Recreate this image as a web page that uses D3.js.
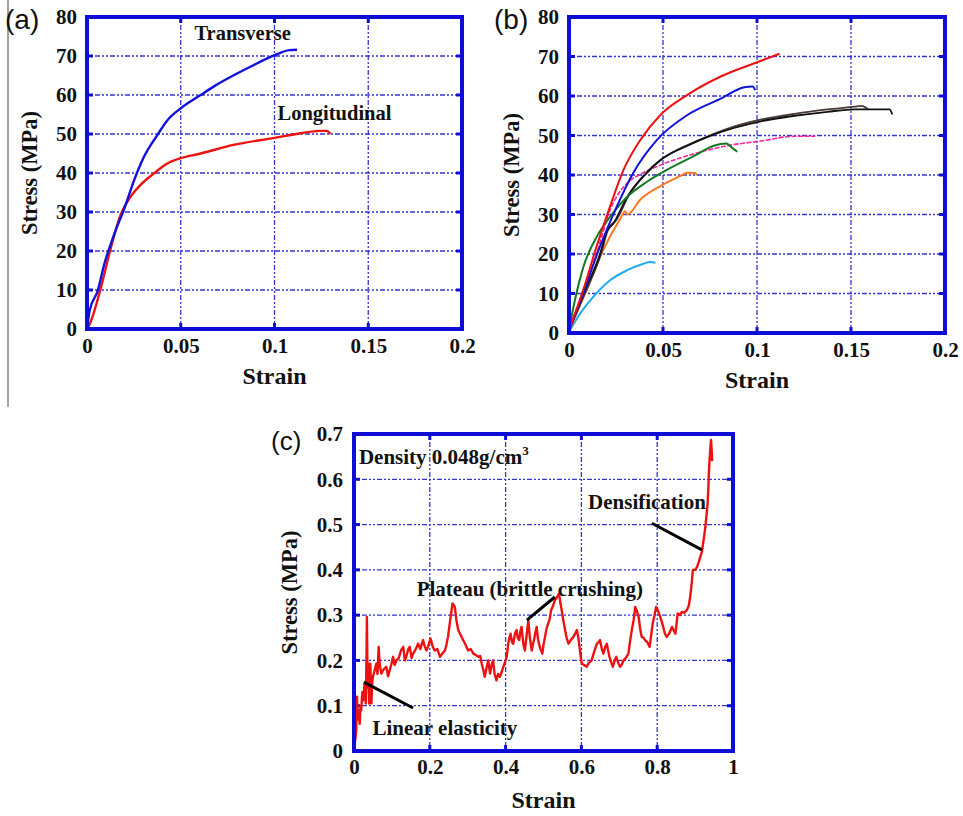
<!DOCTYPE html>
<html>
<head>
<meta charset="utf-8">
<script src="https://cdn.jsdelivr.net/npm/d3@7"></script>
<style>
  body { margin: 0; background: #fff; }
  svg text { font-family: "Liberation Serif", "Times New Roman", serif; font-weight: bold; fill: #111; }
  svg text.letter { font-family: "Liberation Sans", Arial, sans-serif; font-weight: normal; }
</style>
</head>
<body>
<svg width="963" height="816"></svg>
<script>
// ---- data: [strain, stress] ----
const transverse = [[0,0],[0.0014,4.7],[0.0057,9.8],[0.0092,16.6],[0.0145,24.3],[0.020,31],[0.025,38],[0.030,43.8],[0.0376,49.8],[0.043,53.6],[0.05,56.6],[0.0606,60],[0.069,62.6],[0.078,65],[0.089,67.7],[0.1,70.2],[0.108,71.5],[0.112,71.6]]
const longitudinal = [[0,0],[0.0012,1],[0.0074,10.6],[0.0128,21],[0.018,29.4],[0.0234,34],[0.0287,37],[0.036,40],[0.043,42.5],[0.05,43.8],[0.0606,45],[0.078,47.2],[0.1,49],[0.114,50.2],[0.124,50.8],[0.128,50.8],[0.1298,50]]

const bRed = [[0,0.7],[0.0075,10.8],[0.0146,21.8],[0.0218,32],[0.029,41.3],[0.038,48.9],[0.0486,55.2],[0.063,60.3],[0.081,65],[0.0986,68.3],[0.112,70.7]]
const bBlue = [[0,0.5],[0.0075,10],[0.0164,21.8],[0.0254,32],[0.034,40.4],[0.0468,48.9],[0.063,55.2],[0.081,59.4],[0.0932,62.2],[0.0977,62.4],[0.099,61.5]]
const bBlackA = [[0,0.8],[0.0077,10],[0.0165,20],[0.02,25.5],[0.024,28],[0.031,34.5],[0.04,40],[0.0486,43.8],[0.063,47.4],[0.0752,49.9],[0.0877,51.9],[0.102,53.6],[0.12,55],[0.1375,56],[0.152,56.6],[0.1705,56.6],[0.172,55.3]]
const bBlackB = [[0,0.8],[0.0085,10],[0.017,20],[0.021,26.5],[0.025,28.5],[0.032,35],[0.041,40.3],[0.05,44.2],[0.064,47.8],[0.076,50.2],[0.088,52.3],[0.102,54],[0.12,55.5],[0.1375,56.6],[0.152,57.3],[0.1555,57.5],[0.159,56.7]]
const bPink = [[0,0.8],[0.0077,11],[0.0148,20.3],[0.022,31.3],[0.031,38],[0.038,40.2],[0.0486,42.5],[0.066,45.3],[0.084,47.4],[0.102,48.6],[0.12,49.8],[0.131,49.8]]
const bGreen = [[0,0.8],[0.0032,8.4],[0.0077,16.8],[0.0148,24.4],[0.022,29.5],[0.031,34.5],[0.0415,38.3],[0.052,41.3],[0.066,44.7],[0.077,47.4],[0.0836,48],[0.087,46.8],[0.0895,45.9]]
const bOrange = [[0,0.5],[0.0094,11],[0.0183,21.1],[0.027,28.7],[0.0299,30.8],[0.031,30],[0.038,33.8],[0.0486,37.2],[0.059,39.7],[0.063,40.6],[0.067,40.5],[0.068,39.9]]
const bCyan = [[0,0.3],[0.0059,4.9],[0.013,9.2],[0.022,13.4],[0.031,15.9],[0.04,17.6],[0.043,18],[0.046,17.8]]

const foam = [[0,0.002],[0.004,0.03],[0.006,0.046],[0.008,0.12],[0.010,0.07],[0.012,0.09],[0.015,0.06],[0.017,0.1],[0.019,0.09],[0.022,0.13],[0.024,0.112],[0.028,0.149],[0.031,0.105],[0.033,0.208],[0.034,0.296],[0.036,0.14],[0.037,0.193],[0.04,0.105],[0.043,0.193],[0.046,0.105],[0.048,0.15],[0.05,0.164],[0.055,0.18],[0.059,0.193],[0.062,0.17],[0.065,0.23],[0.068,0.19],[0.072,0.171],[0.078,0.18],[0.085,0.186],[0.09,0.165],[0.094,0.178],[0.098,0.19],[0.103,0.208],[0.107,0.19],[0.112,0.2],[0.118,0.205],[0.124,0.222],[0.13,0.23],[0.134,0.2],[0.138,0.208],[0.143,0.225],[0.147,0.23],[0.152,0.205],[0.156,0.215],[0.163,0.225],[0.169,0.237],[0.175,0.225],[0.182,0.245],[0.187,0.23],[0.191,0.222],[0.197,0.235],[0.202,0.248],[0.208,0.23],[0.213,0.222],[0.22,0.225],[0.227,0.208],[0.233,0.215],[0.24,0.222],[0.244,0.235],[0.248,0.252],[0.254,0.29],[0.26,0.326],[0.266,0.318],[0.27,0.29],[0.275,0.267],[0.282,0.255],[0.288,0.245],[0.294,0.235],[0.301,0.222],[0.308,0.225],[0.315,0.215],[0.321,0.212],[0.328,0.208],[0.333,0.21],[0.337,0.193],[0.341,0.18],[0.345,0.164],[0.35,0.185],[0.354,0.2],[0.359,0.171],[0.363,0.19],[0.367,0.2],[0.371,0.17],[0.376,0.156],[0.38,0.17],[0.385,0.164],[0.39,0.175],[0.394,0.186],[0.398,0.195],[0.403,0.208],[0.407,0.237],[0.41,0.25],[0.413,0.259],[0.417,0.24],[0.42,0.237],[0.425,0.26],[0.429,0.267],[0.432,0.25],[0.436,0.245],[0.439,0.265],[0.442,0.274],[0.447,0.235],[0.451,0.222],[0.456,0.26],[0.46,0.289],[0.464,0.25],[0.469,0.222],[0.472,0.235],[0.475,0.245],[0.478,0.26],[0.482,0.274],[0.485,0.25],[0.488,0.237],[0.492,0.225],[0.497,0.215],[0.5,0.235],[0.504,0.252],[0.508,0.27],[0.512,0.281],[0.516,0.29],[0.52,0.311],[0.525,0.32],[0.53,0.333],[0.536,0.34],[0.541,0.348],[0.544,0.33],[0.548,0.311],[0.552,0.29],[0.557,0.267],[0.561,0.25],[0.566,0.237],[0.572,0.245],[0.579,0.252],[0.584,0.26],[0.588,0.267],[0.592,0.25],[0.595,0.23],[0.598,0.21],[0.601,0.193],[0.607,0.19],[0.614,0.186],[0.62,0.195],[0.627,0.2],[0.634,0.22],[0.641,0.237],[0.645,0.24],[0.649,0.245],[0.654,0.225],[0.658,0.215],[0.663,0.23],[0.667,0.237],[0.671,0.22],[0.674,0.208],[0.679,0.195],[0.683,0.186],[0.688,0.2],[0.692,0.208],[0.697,0.195],[0.702,0.186],[0.706,0.19],[0.711,0.2],[0.717,0.205],[0.724,0.215],[0.728,0.24],[0.733,0.267],[0.738,0.29],[0.742,0.318],[0.746,0.31],[0.751,0.296],[0.755,0.27],[0.759,0.252],[0.764,0.25],[0.768,0.245],[0.774,0.24],[0.78,0.23],[0.784,0.255],[0.788,0.281],[0.793,0.3],[0.797,0.318],[0.802,0.31],[0.808,0.296],[0.812,0.285],[0.816,0.274],[0.82,0.26],[0.825,0.252],[0.832,0.26],[0.839,0.274],[0.844,0.265],[0.848,0.259],[0.851,0.28],[0.854,0.304],[0.86,0.3],[0.865,0.307],[0.871,0.305],[0.878,0.311],[0.883,0.32],[0.887,0.34],[0.891,0.37],[0.894,0.4],[0.9,0.4],[0.905,0.406],[0.91,0.418],[0.914,0.429],[0.918,0.44],[0.921,0.458],[0.924,0.475],[0.927,0.495],[0.93,0.52],[0.933,0.547],[0.935,0.58],[0.936,0.606],[0.938,0.64],[0.94,0.665],[0.942,0.687],[0.944,0.66],[0.945,0.64]]

const strainTicksAB = [0, 0.05, 0.1, 0.15, 0.2]
const stressTicksAB = [0, 10, 20, 30, 40, 50, 60, 70, 80]
const strainTicksC = [0, 0.2, 0.4, 0.6, 0.8, 1]
const stressTicksC = [0, 0.1, 0.2, 0.3, 0.4, 0.5, 0.6, 0.7]

const frameBlue = "#0d0dd6"
const gridBlue = "#3535d0"

const svg = d3.select("svg")

// thin separator line on the far left
svg.append("line").attr("x1", 8).attr("x2", 8).attr("y1", 0).attr("y2", 407)
  .attr("stroke", "#444").attr("stroke-width", 1)

function panel(cfg) {
  const x = d3.scaleLinear().domain(cfg.xDomain).range([cfg.left, cfg.right])
  const y = d3.scaleLinear().domain(cfg.yDomain).range([cfg.bottom, cfg.top])
  const g = svg.append("g")

  // grid
  g.append("g").selectAll("line.gx")
    .data(cfg.xTicks.slice(1, -1)).enter().append("line")
    .attr("x1", d => x(d)).attr("x2", d => x(d))
    .attr("y1", cfg.top).attr("y2", cfg.bottom)
    .attr("stroke", gridBlue).attr("stroke-width", 1.3)
    .attr("stroke-dasharray", "2,2,2,2,5,2")
  g.append("g").selectAll("line.gy")
    .data(cfg.yTicks.slice(1, -1)).enter().append("line")
    .attr("y1", d => y(d)).attr("y2", d => y(d))
    .attr("x1", cfg.left).attr("x2", cfg.right)
    .attr("stroke", gridBlue).attr("stroke-width", 1.3)
    .attr("stroke-dasharray", "2,2,2,2,5,2")

  // inward tick marks on all four sides
  const tk = 6
  cfg.xTicks.slice(1, -1).forEach(d => {
    g.append("line").attr("x1", x(d)).attr("x2", x(d)).attr("y1", cfg.bottom).attr("y2", cfg.bottom - tk)
      .attr("stroke", frameBlue).attr("stroke-width", 3)
    g.append("line").attr("x1", x(d)).attr("x2", x(d)).attr("y1", cfg.top).attr("y2", cfg.top + tk)
      .attr("stroke", frameBlue).attr("stroke-width", 3)
  })
  cfg.yTicks.slice(1, -1).forEach(d => {
    g.append("line").attr("y1", y(d)).attr("y2", y(d)).attr("x1", cfg.left).attr("x2", cfg.left + tk)
      .attr("stroke", frameBlue).attr("stroke-width", 3)
    g.append("line").attr("y1", y(d)).attr("y2", y(d)).attr("x1", cfg.right).attr("x2", cfg.right - tk)
      .attr("stroke", frameBlue).attr("stroke-width", 3)
  })

  // axes (labels only)
  const ax = g.append("g").attr("transform", `translate(0,${cfg.bottom})`)
    .call(d3.axisBottom(x).tickValues(cfg.xTicks).tickSize(0).tickPadding(cfg.xPad).tickFormat(d3.format("")))
  const ay = g.append("g").attr("transform", `translate(${cfg.left},0)`)
    .call(d3.axisLeft(y).tickValues(cfg.yTicks).tickSize(0).tickPadding(cfg.yPad).tickFormat(d3.format("")))
  ;[ax, ay].forEach(a => {
    a.select(".domain").remove()
    a.selectAll("text").attr("font-size", 21).attr("fill", "#111")
      .attr("font-family", '"Liberation Serif", serif').attr("font-weight", "bold")
  })

  g.append("text").attr("x", (cfg.left + cfg.right) / 2).attr("y", cfg.bottom + cfg.xTitleOff)
    .attr("text-anchor", "middle").attr("font-size", 24).text("Strain")
  g.append("text")
    .attr("transform", `translate(${cfg.left - cfg.yTitleOff},${(cfg.top + cfg.bottom) / 2}) rotate(-90)`)
    .attr("text-anchor", "middle").attr("font-size", 22.5).text("Stress (MPa)")

  g.append("text").attr("class", "letter").attr("x", cfg.letter[0]).attr("y", cfg.letter[1])
    .attr("font-size", cfg.letterSize).text(cfg.name)

  const line = d3.line().x(d => x(d[0])).y(d => y(d[1])).curve(cfg.curve || d3.curveLinear)
  cfg.series.forEach(s => {
    g.append("path").datum(s.data).attr("d", line).attr("fill", "none")
      .attr("stroke", s.color).attr("stroke-width", s.width || 2)
      .attr("stroke-dasharray", s.dash || null)
      .attr("stroke-linejoin", "round")
  })

  ;(cfg.notes || []).forEach(n => {
    if (n.line) {
      g.append("line").attr("x1", x(n.line[0][0])).attr("y1", y(n.line[0][1]))
        .attr("x2", x(n.line[1][0])).attr("y2", y(n.line[1][1]))
        .attr("stroke", "#000").attr("stroke-width", 3)
    }
    const t = g.append("text").attr("x", x(n.at[0])).attr("y", y(n.at[1]))
      .attr("text-anchor", n.anchor || "middle").attr("font-size", n.size || 21).text(n.text)
    if (n.sup) t.append("tspan").attr("font-size", 13).attr("dy", -9).text(n.sup)
  })

  // frame on top
  g.append("rect").attr("x", cfg.left).attr("y", cfg.top)
    .attr("width", cfg.right - cfg.left).attr("height", cfg.bottom - cfg.top)
    .attr("fill", "none").attr("stroke", frameBlue).attr("stroke-width", 4)
}

panel({
  name: "(a)", letter: [5, 29], letterSize: 28,
  left: 87, right: 462, top: 17, bottom: 329,
  xDomain: [0, 0.2], yDomain: [0, 80], xTicks: strainTicksAB, yTicks: stressTicksAB,
  xPad: 9, yPad: 10, xTitleOff: 55, yTitleOff: 50, curve: d3.curveMonotoneX,
  series: [
    {data: longitudinal, color: "#ee1111", width: 2.4},
    {data: transverse, color: "#1111dd", width: 2.4}
  ],
  notes: [
    {text: "Transverse", at: [0.083, 74], size: 20.5},
    {text: "Longitudinal", at: [0.132, 53.5], size: 20.5}
  ]
})

panel({
  name: "(b)", letter: [494, 29], letterSize: 28,
  left: 569, right: 945, top: 17, bottom: 333,
  xDomain: [0, 0.2], yDomain: [0, 80], xTicks: strainTicksAB, yTicks: stressTicksAB,
  xPad: 9, yPad: 10, xTitleOff: 55, yTitleOff: 50, curve: d3.curveMonotoneX,
  series: [
    {data: bCyan, color: "#22aaee"},
    {data: bOrange, color: "#ff7722"},
    {data: bPink, color: "#ff2299", width: 1.6, dash: "5,1.5"},
    {data: bBlackB, color: "#4a3a36", width: 1.8},
    {data: bBlackA, color: "#111111", width: 1.8},
    {data: bGreen, color: "#127a22"},
    {data: bBlue, color: "#1111dd"},
    {data: bRed, color: "#ee1111"}
  ]
})

panel({
  name: "(c)", letter: [271, 450], letterSize: 26,
  left: 354, right: 733, top: 434, bottom: 751,
  xDomain: [0, 1], yDomain: [0, 0.7], xTicks: strainTicksC, yTicks: stressTicksC,
  xPad: 8, yPad: 11, xTitleOff: 57, yTitleOff: 57,
  series: [
    {data: foam, color: "#ee1111", width: 2.4}
  ],
  notes: [
    {text: "Density 0.048g/cm", sup: "3", at: [0.013, 0.634], anchor: "start"},
    {text: "Linear elasticity", at: [0.24, 0.035], line: [[0.026, 0.152], [0.156, 0.095]]},
    {text: "Plateau (brittle crushing)", at: [0.464, 0.342], line: [[0.456, 0.289], [0.53, 0.34]]},
    {text: "Densification", at: [0.773, 0.534], line: [[0.786, 0.503], [0.918, 0.444]]}
  ]
})
</script>
</body>
</html>
